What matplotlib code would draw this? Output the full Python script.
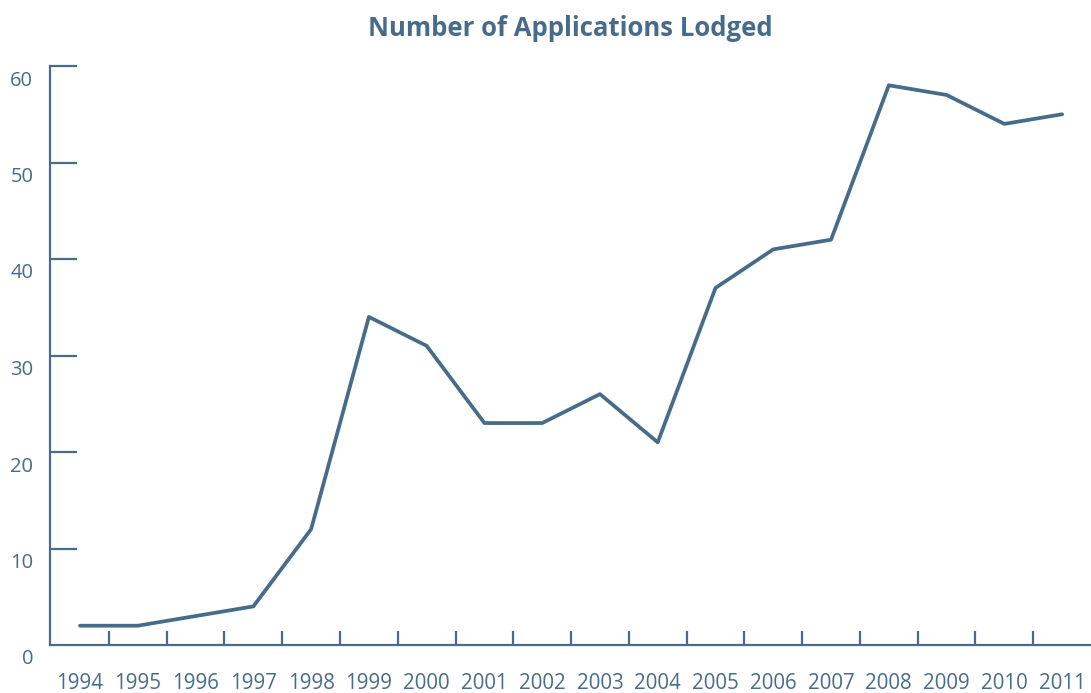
import matplotlib
matplotlib.use("Agg")
import matplotlib.pyplot as plt
from matplotlib.transforms import ScaledTranslation

years = list(range(1994, 2012))
applications = [2, 2, 3, 4, 12, 34, 31, 23, 23, 26, 21, 37, 41, 42, 58, 57, 54, 55]
y_ticks = [0, 10, 20, 30, 40, 50, 60]
title = "Number of Applications Lodged"

color = "#476c8a"
plt.rcParams['font.family'] = ['Open Sans', 'DejaVu Sans']

fig = plt.figure(figsize=(10.91, 6.93), dpi=100)
ax = fig.add_axes([50/1091, 1 - 645/693, 1 - 50/1091, (645 - 66)/693])

ax.plot(years, applications, color=color, lw=2.7, solid_capstyle='round')

ax.set_xlim(1993.48, 2011.5)
ax.set_ylim(0, 60)

for s in ['top', 'right']:
    ax.spines[s].set_visible(False)
for s in ['left', 'bottom']:
    ax.spines[s].set_color(color)
    ax.spines[s].set_linewidth(1.6)

ax.set_xticks(years)
ax.set_xticks([y + 0.5 for y in years[:-1]], minor=True)
ax.tick_params(axis='x', which='major', length=0, pad=20, labelsize=14.8, labelcolor=color)
ax.tick_params(axis='x', which='minor', direction='in', length=10, width=1.6, color=color)

ax.set_yticks(y_ticks)
ax.tick_params(axis='y', which='major', direction='in', length=19.5, width=1.6, color=color,
               pad=12, labelsize=14.5, labelcolor=color)
offset = ScaledTranslation(0, -12/100, fig.dpi_scale_trans)
for lbl in ax.get_yticklabels():
    lbl.set_transform(lbl.get_transform() + offset)
# hide the tick at 0 (axis line acts as baseline)
ax.yaxis.get_major_ticks()[0].tick1line.set_visible(False)

fig.suptitle(title, x=(50 + 1091) / 2 / 1091, y=1 - 15/693, va='top',
             fontsize=18.5, fontweight='bold', color=color)

fig.savefig("out.png", dpi=100)
